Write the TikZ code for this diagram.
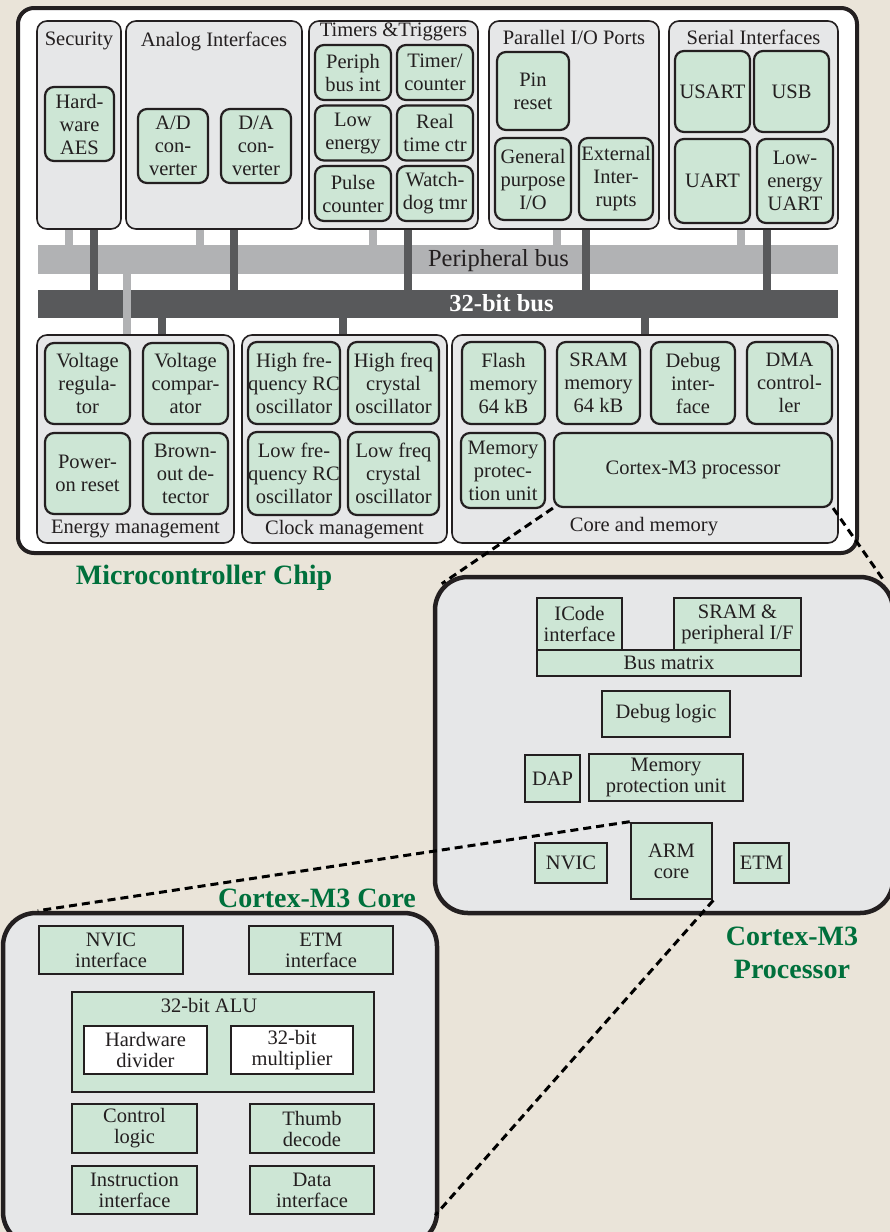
\documentclass[tikz,border=0pt]{standalone}
\usepackage{fontspec}
\setmainfont{Liberation Serif}
\usepackage{tikz}

\definecolor{bgbeige}{RGB}{234,228,217}
\definecolor{panelgray}{RGB}{230,231,232}
\definecolor{boxgreen}{RGB}{205,230,213}
\definecolor{titlegreen}{RGB}{0,112,60}
\definecolor{buslight}{RGB}{177,178,180}
\definecolor{busdark}{RGB}{88,89,91}
\definecolor{ink}{RGB}{35,31,32}

\begin{document}
\begin{tikzpicture}[x=1pt, y=-1pt, every node/.style={text=ink, font=\fontsize{20.5}{23}\selectfont},
	chip/.style={draw=ink, line width=4pt, rounded corners=16pt, fill=white, inner sep=0pt},
	panel/.style={draw=ink, line width=1.6pt, rounded corners=10pt, fill=panelgray, inner sep=0pt},
	bigpanel/.style={draw=ink, line width=4.5pt, rounded corners=33pt, fill=panelgray, inner sep=0pt},
	gbox/.style={draw=ink, line width=2.2pt, rounded corners=9pt, fill=boxgreen, align=center, inner sep=0pt},
	sbox/.style={draw=ink, line width=2.6pt, fill=boxgreen, align=center, inner sep=0pt, font=\fontsize{20.5}{21}\selectfont},
	wbox/.style={sbox, fill=white},
	bar/.style={inner sep=0pt, minimum width=800pt},
	lstub/.style={draw=buslight, line width=8pt},
	dstub/.style={draw=busdark, line width=8pt},
	zoomline/.style={draw=black, line width=3pt, dash pattern=on 8pt off 5pt},
	caption/.style={text=titlegreen, font=\fontsize{28}{33}\selectfont\bfseries, align=center}]
	\useasboundingbox (0,0) rectangle (890,1232);
	\fill[bgbeige] (0,0) rectangle (890,1232);

	% microcontroller chip
	\node[chip, minimum width=839pt, minimum height=545pt] (chip) at (437.5,280.5) {};

	% top row of peripheral groups
	\node[panel, minimum width=84pt, minimum height=208pt] (sec) at (79,125) {};
	\node[panel, minimum width=176pt, minimum height=208pt] (ana) at (214,125) {};
	\node[panel, minimum width=169pt, minimum height=208pt] (tim) at (393.5,125) {};
	\node[panel, minimum width=170pt, minimum height=208pt] (par) at (574,125) {};
	\node[panel, minimum width=169pt, minimum height=208pt] (ser) at (753.5,125) {};
	\node (secT) at (79,41) {Security};
	\node (anaT) at (214,41) {Analog Interfaces};
	\node (timT) at (393.5,32) {Timers \&Triggers};
	\node (parT) at (574,37) {Parallel I/O Ports};
	\node (serT) at (753.5,37) {Serial Interfaces};

	\node[gbox, minimum width=69pt, minimum height=74pt] (aes) at (79.5,124) {Hard-\\ware\\AES};
	\node[gbox, minimum width=70pt, minimum height=74pt] (adc) at (173,146) {A/D\\con-\\verter};
	\node[gbox, minimum width=70pt, minimum height=74pt] (dac) at (256,146) {D/A\\con-\\verter};
	\node[gbox, minimum width=76pt, minimum height=55pt] (pbi) at (353,72.5) {Periph\\bus int};
	\node[gbox, minimum width=76pt, minimum height=55pt] (tmc) at (435,72.5) {Timer/\\counter};
	\node[gbox, minimum width=76pt, minimum height=55pt] (lowe) at (353,133) {Low\\energy};
	\node[gbox, minimum width=76pt, minimum height=55pt] (rtc) at (435,133) {Real\\time ctr};
	\node[gbox, minimum width=76pt, minimum height=55pt] (pcnt) at (353,193.5) {Pulse\\counter};
	\node[gbox, minimum width=76pt, minimum height=55pt] (wdog) at (435,193.5) {Watch-\\dog tmr};
	\node[gbox, minimum width=72pt, minimum height=78pt] (pinrst) at (533,91) {Pin\\reset};
	\node[gbox, minimum width=76pt, minimum height=82pt] (gpio) at (533,179) {General\\purpose\\I/O};
	\node[gbox, minimum width=74pt, minimum height=82pt] (extint) at (616,179) {External\\Inter-\\rupts};
	\node[gbox, minimum width=75pt, minimum height=81pt] (usart) at (712.5,91.5) {USART};
	\node[gbox, minimum width=75pt, minimum height=81pt] (usb) at (791.5,91.5) {USB};
	\node[gbox, minimum width=75pt, minimum height=84pt] (uart) at (712.5,181) {UART};
	\node[gbox, minimum width=76pt, minimum height=84pt] (leuart) at (795,181) {Low-\\energy\\UART};

	% buses
	\node[bar, fill=buslight, minimum height=29pt] (pbus) at (438,259.5) {};
	\node[bar, fill=busdark, minimum height=28pt] (bus32) at (438,304) {};
	\node[font=\fontsize{24.5}{26}\selectfont] (pbusT) at (498.5,261) {Peripheral bus};
	\node[text=white, font=\fontsize{24.5}{26}\selectfont\bfseries] (bus32T) at (501.5,303) {32-bit bus};

	% bus taps
	\draw[lstub] ([xshift=-10pt]sec.south) -- ([xshift=-10pt]sec.south |- pbus.north);
	\draw[lstub] ([xshift=-14pt]ana.south) -- ([xshift=-14pt]ana.south |- pbus.north);
	\draw[lstub] ([xshift=-20.5pt]tim.south) -- ([xshift=-20.5pt]tim.south |- pbus.north);
	\draw[lstub] ([xshift=-17pt]par.south) -- ([xshift=-17pt]par.south |- pbus.north);
	\draw[lstub] ([xshift=-12.5pt]ser.south) -- ([xshift=-12.5pt]ser.south |- pbus.north);
	\draw[dstub] ([xshift=15pt]sec.south) -- ([xshift=15pt]sec.south |- bus32.north);
	\draw[dstub] ([xshift=20pt]ana.south) -- ([xshift=20pt]ana.south |- bus32.north);
	\draw[dstub] ([xshift=14.5pt]tim.south) -- ([xshift=14.5pt]tim.south |- bus32.north);
	\draw[dstub] ([xshift=12pt]par.south) -- ([xshift=12pt]par.south |- bus32.north);
	\draw[dstub] ([xshift=13.5pt]ser.south) -- ([xshift=13.5pt]ser.south |- bus32.north);

	% bottom row of groups
	\node[panel, minimum width=197pt, minimum height=208pt] (energy) at (135.5,439) {};
	\node[panel, minimum width=205pt, minimum height=208pt] (clock) at (344.5,439) {};
	\node[panel, minimum width=386pt, minimum height=208pt] (core) at (645,439) {};
	\draw[lstub] ([xshift=-8.5pt]energy.north |- pbus.south) -- ([xshift=-8.5pt]energy.north);
	\draw[dstub] ([xshift=26.5pt]energy.north |- bus32.south) -- ([xshift=26.5pt]energy.north);
	\draw[dstub] ([xshift=-1.5pt]clock.north |- bus32.south) -- ([xshift=-1.5pt]clock.north);
	\draw[dstub] (core.north |- bus32.south) -- (core.north);
	\node (energyT) at (135.5,529) {Energy management};
	\node (clockT) at (344.5,530) {Clock management};
	\node (coreT) at (644,527) {Core and memory};

	\node[gbox, minimum width=85pt, minimum height=81pt] (vreg) at (87.5,383.5) {Voltage\\regula-\\tor};
	\node[gbox, minimum width=85pt, minimum height=81pt] (vcmp) at (185.5,383.5) {Voltage\\compar-\\ator};
	\node[gbox, minimum width=85pt, minimum height=81pt] (por) at (87.5,473.5) {Power-\\on reset};
	\node[gbox, minimum width=85pt, minimum height=81pt] (bod) at (185.5,473.5) {Brown-\\out de-\\tector};
	\node[gbox, minimum width=92pt, minimum height=82pt] (hfrc) at (294,383) {High fre-\\quency RC\\oscillator};
	\node[gbox, minimum width=91pt, minimum height=82pt] (hfxo) at (393.5,383) {High freq\\crystal\\oscillator};
	\node[gbox, minimum width=92pt, minimum height=83pt] (lfrc) at (294,473.5) {Low fre-\\quency RC\\oscillator};
	\node[gbox, minimum width=91pt, minimum height=83pt] (lfxo) at (393.5,473.5) {Low freq\\crystal\\oscillator};
	\node[gbox, minimum width=83pt, minimum height=82pt] (flash) at (503.5,383) {Flash\\memory\\64 kB};
	\node[gbox, minimum width=83pt, minimum height=82pt] (sram) at (598.5,383) {SRAM\\memory\\64 kB};
	\node[gbox, minimum width=84pt, minimum height=82pt] (dbgif) at (693,383) {Debug\\inter-\\face};
	\node[gbox, minimum width=85pt, minimum height=82pt] (dma) at (789.5,383) {DMA\\control-\\ler};
	\node[gbox, minimum width=84pt, minimum height=75pt] (mpu) at (503,470.5) {Memory\\protec-\\tion unit};
	\node[gbox, minimum width=278pt, minimum height=74pt] (cm3) at (693,470) {Cortex-M3 processor};

	\node[caption] (chipT) at (204,578) {Microcontroller Chip};

	% Cortex-M3 processor
	\node[bigpanel, minimum width=458pt, minimum height=336pt] (proc) at (664,745) {};
	\node[sbox, minimum width=85pt, minimum height=52pt] (icode) at (579.5,624) {ICode\\interface};
	\node[sbox, minimum width=127pt, minimum height=52pt] (sramif) at (737.5,624) {SRAM \&\\peripheral I/F};
	\node[sbox, minimum width=264pt, minimum height=26pt] (busmx) at (669,663) {Bus matrix};
	\node[sbox, minimum width=128pt, minimum height=46pt] (dbglog) at (666,714) {Debug logic};
	\node[sbox, minimum width=55pt, minimum height=47pt] (dap) at (552.5,778.5) {DAP};
	\node[sbox, minimum width=154pt, minimum height=47pt] (mpuP) at (666,777.5) {Memory\\protection unit};
	\node[sbox, minimum width=72pt, minimum height=40pt] (nvic) at (571,863) {NVIC};
	\node[sbox, minimum width=81pt, minimum height=76pt] (arm) at (671.5,861) {ARM\\core};
	\node[sbox, minimum width=55pt, minimum height=40pt] (etm) at (761.5,863) {ETM};
	\node[caption] (procT) at (792,953) {Cortex-M3\\Processor};

	% Cortex-M3 core
	\node[bigpanel, minimum width=434pt, minimum height=332pt] (corep) at (220,1079) {};
	\node[sbox, minimum width=144pt, minimum height=48pt] (nvicif) at (111,950) {NVIC\\interface};
	\node[sbox, minimum width=144pt, minimum height=48pt] (etmif) at (321,950) {ETM\\interface};
	\node[sbox, minimum width=302pt, minimum height=100pt] (alu) at (223,1042) {};
	\node (aluT) at (209,1005) {32-bit ALU};
	\node[wbox, minimum width=123pt, minimum height=48pt] (hwdiv) at (145.5,1050) {Hardware\\divider};
	\node[wbox, minimum width=122pt, minimum height=48pt] (mult) at (292,1050) {32-bit\\multiplier};
	\node[sbox, minimum width=125pt, minimum height=49pt] (ctrl) at (134.5,1128.5) {Control\\logic};
	\node[sbox, minimum width=124pt, minimum height=49pt] (thumb) at (312,1128.5) {Thumb\\decode};
	\node[sbox, minimum width=125pt, minimum height=48pt] (instr) at (134.5,1190) {Instruction\\interface};
	\node[sbox, minimum width=124pt, minimum height=48pt] (data) at (312,1190) {Data\\interface};
	\node[caption] (coreT2) at (317,898) {Cortex-M3 Core};

	% zoom lines
	\draw[zoomline] (cm3.south west) -- ([shift={(9,9)}]proc.north west);
	\draw[zoomline] (cm3.south east) -- ([shift={(-12,5)}]proc.north east);
	\draw[zoomline] (arm.north west) -- ([xshift=37pt]corep.north west);
	\draw[zoomline] (arm.south east) -- ([shift={(-4,-32)}]corep.south east);
\end{tikzpicture}
\end{document}
